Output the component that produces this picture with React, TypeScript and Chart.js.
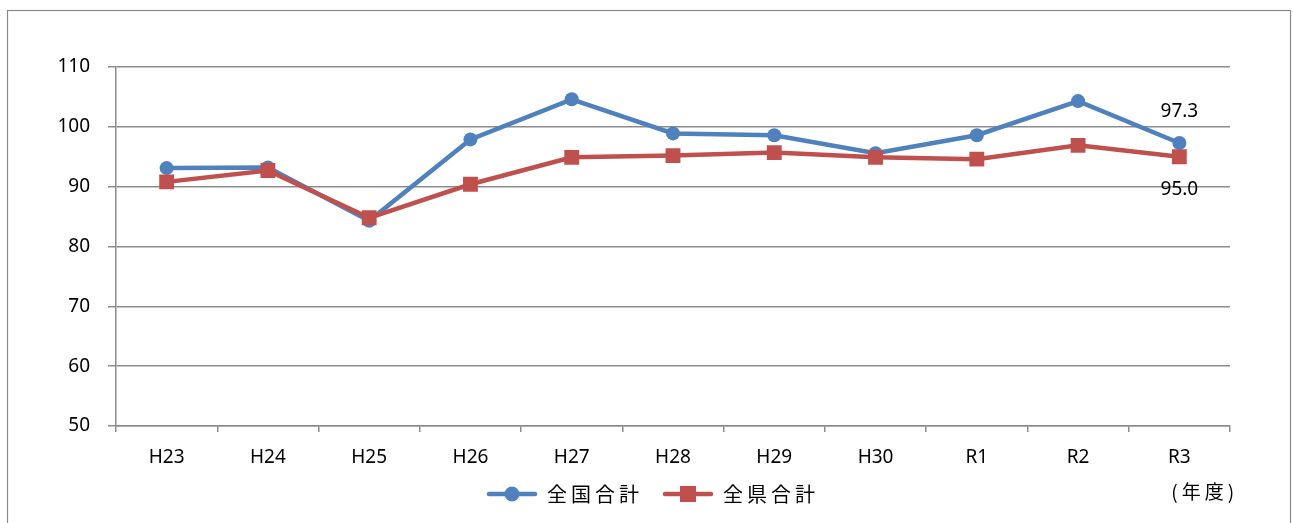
import React, { useEffect, useRef } from 'react';
import { Chart, registerables } from 'chart.js';

Chart.register(...registerables);

const categories = ['H23', 'H24', 'H25', 'H26', 'H27', 'H28', 'H29', 'H30', 'R1', 'R2', 'R3'];
const nationalTotal = [93.1, 93.2, 84.3, 97.9, 104.6, 98.9, 98.6, 95.6, 98.6, 104.3, 97.3];
const prefectureTotal = [90.8, 92.7, 84.8, 90.4, 94.9, 95.2, 95.7, 94.9, 94.6, 96.9, 95.0];
const yTicks = [50, 60, 70, 80, 90, 100, 110];
const seriesNames = ['全国合計', '全県合計'];
const unitLabel = '(年度)';

const BLUE = '#4F81BD';
const RED = '#C0504D';
const GRID = '#8c8c8c';
const NUM_FONT = "'Noto Sans', sans-serif";
const JP_FONT = "'Noto Sans CJK JP', sans-serif";
const LEGEND_SHIFT = 38;

function makeLegendIcon(color: string, shape: 'circle' | 'square') {
  const c = document.createElement('canvas');
  c.width = 52;
  c.height = 18;
  const g = c.getContext('2d')!;
  g.strokeStyle = color;
  g.lineWidth = 4.5;
  g.lineCap = 'round';
  g.beginPath();
  g.moveTo(3, 9);
  g.lineTo(49, 9);
  g.stroke();
  g.fillStyle = color;
  if (shape === 'circle') {
    g.beginPath();
    g.arc(26, 9, 7.5, 0, Math.PI * 2);
    g.fill();
  } else {
    g.fillRect(18, 1, 16, 16);
  }
  return c;
}

export default function App() {
  const ref = useRef<HTMLCanvasElement | null>(null);

  useEffect(() => {
    if (!ref.current) return;
    const icons = [makeLegendIcon(BLUE, 'circle'), makeLegendIcon(RED, 'square')];

    const extras = {
      id: 'extras',
      afterInit(chart: any) {
        const lg = chart.legend;
        if (lg && !lg.__wrapped) {
          lg.__wrapped = true;
          const fit = lg.fit.bind(lg);
          const draw = lg.draw.bind(lg);
          lg.fit = function () {
            const c = chart.ctx;
            c.save();
            c.letterSpacing = '4px';
            fit();
            c.restore();
          };
          lg.draw = function (area: any) {
            const c = chart.ctx;
            c.save();
            c.letterSpacing = '4px';
            c.translate(LEGEND_SHIFT, 0);
            draw(area);
            c.restore();
          };
        }
      },
      beforeDraw(chart: any) {
        const c = chart.ctx;
        c.save();
        c.fillStyle = '#fff';
        c.fillRect(0, 0, chart.width, chart.height);
        c.strokeStyle = '#8a8a8a';
        c.lineWidth = 1.2;
        c.strokeRect(7.5, 10.5, 1283, 540);
        c.restore();
      },
      afterDatasetsDraw(chart: any) {
        const c = chart.ctx;
        const last = categories.length - 1;
        const p0 = chart.getDatasetMeta(0).data[last];
        const p1 = chart.getDatasetMeta(1).data[last];
        c.save();
        c.fillStyle = '#000';
        c.font = `19px ${NUM_FONT}`;
        c.textAlign = 'center';
        c.textBaseline = 'middle';
        c.fillText(nationalTotal[last].toFixed(1), p0.x, p0.y - 31);
        c.fillText(prefectureTotal[last].toFixed(1), p1.x, p1.y + 33);
        c.restore();
      },
      afterDraw(chart: any) {
        const c = chart.ctx;
        const xs = chart.scales.x;
        const lg = chart.legend;
        const x = xs.getPixelForValue(categories.length - 1) - 8;
        const y = lg.top + 20 + 10 - 2;
        c.save();
        c.fillStyle = '#000';
        c.font = `19px ${JP_FONT}`;
        c.letterSpacing = '4px';
        c.textAlign = 'left';
        c.textBaseline = 'middle';
        c.fillText(unitLabel, x, y);
        c.restore();
      },
    };

    const chart = new Chart(ref.current, {
      type: 'line',
      data: {
        labels: categories,
        datasets: [
          {
            label: seriesNames[0],
            data: nationalTotal,
            borderColor: BLUE,
            backgroundColor: BLUE,
            borderWidth: 4.5,
            pointStyle: 'circle',
            pointRadius: 7,
            pointBorderWidth: 0,
            pointBackgroundColor: BLUE,
            tension: 0,
            order: 2,
          },
          {
            label: seriesNames[1],
            data: prefectureTotal,
            borderColor: RED,
            backgroundColor: RED,
            borderWidth: 4.5,
            pointStyle: 'rect',
            pointRadius: 10.5,
            pointBorderWidth: 0,
            pointBackgroundColor: RED,
            tension: 0,
            order: 1,
          },
        ],
      },
      options: {
        responsive: false,
        animation: false,
        events: [],
        layout: { padding: { top: 67, right: 63, bottom: 9, left: 0 } },
        font: { family: NUM_FONT },
        color: '#000',
        scales: {
          x: {
            offset: true,
            grid: {
              display: true,
              drawOnChartArea: false,
              drawTicks: true,
              tickLength: 6,
              offset: true,
              color: GRID,
              lineWidth: 1.5,
            },
            border: { display: true, color: GRID, width: 1.5 },
            ticks: {
              color: '#000',
              font: { family: NUM_FONT, size: 19 },
              padding: 14,
              maxRotation: 0,
              autoSkip: false,
            },
            afterFit(s: any) {
              s.height = 38;
            },
          },
          y: {
            min: 50,
            max: 110,
            afterBuildTicks(s: any) {
              s.ticks = yTicks.map((v) => ({ value: v }));
            },
            grid: {
              color: GRID,
              lineWidth: 1.5,
              tickLength: 8,
              drawTicks: true,
            },
            border: { display: true, color: GRID, width: 1.5 },
            ticks: {
              color: '#000',
              font: { family: NUM_FONT, size: 19 },
              padding: 18,
            },
            afterFit(s: any) {
              s.width = 116;
            },
          },
        },
        plugins: {
          tooltip: { enabled: false },
          title: { display: false },
          legend: {
            display: true,
            position: 'bottom',
            labels: {
              usePointStyle: true,
              pointStyleWidth: 50,
              padding: 20,
              color: '#000',
              font: { family: JP_FONT, size: 20 },
              generateLabels: (ch: any) =>
                ch.data.datasets.map((ds: any, i: number) => ({
                  text: ds.label,
                  pointStyle: icons[i],
                  fillStyle: ds.borderColor,
                  strokeStyle: ds.borderColor,
                  lineWidth: 0,
                  hidden: false,
                  datasetIndex: i,
                  fontColor: '#000',
                })),
            },
          },
        },
      } as any,
      plugins: [extras as any],
    });

    return () => chart.destroy();
  }, []);

  return (
    <canvas
      ref={ref}
      width={1293}
      height={523}
      style={{ position: 'absolute', left: 0, top: 0, display: 'block' }}
    />
  );
}
